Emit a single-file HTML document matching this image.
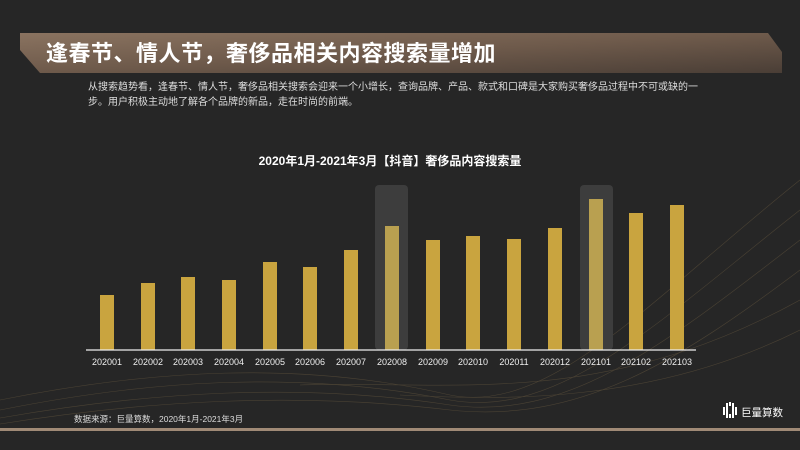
<!DOCTYPE html>
<html><head><meta charset="utf-8"><style>
body{margin:0;width:800px;height:450px;background:#262626;overflow:hidden;position:relative;font-family:"Liberation Sans","Noto Sans CJK SC",sans-serif;}
.t{position:absolute;color:#fff;}
</style></head><body>
<svg width="800" height="450" style="position:absolute;left:0;top:0">
<defs>
<linearGradient id="hg" x1="0" y1="0" x2="1" y2="1">
<stop offset="0" stop-color="#8a7360"/><stop offset="0.5" stop-color="#6e5a4b"/><stop offset="1" stop-color="#4a3e36"/></linearGradient>
</defs>
<polygon points="20,33 768,33 782,52 782,73 40,73 20,50" fill="url(#hg)"/>
<g stroke="#5a4e3a" stroke-width="0.6" fill="none" opacity="0.7">
<path d="M0,400 C150,370 300,360 450,395 C550,415 650,300 800,180"/>
<path d="M0,410 C150,380 300,370 450,400 C560,420 660,320 800,210"/>
<path d="M0,418 C150,392 300,382 450,405 C570,422 670,340 800,240"/>
<path d="M0,424 C150,400 300,392 450,410 C580,424 680,360 800,270"/>
<path d="M300,385 C450,380 600,410 800,300"/>
<path d="M400,395 C500,400 650,405 800,330"/>
</g>
<rect x="375" y="185" width="33" height="165" rx="4" fill="#3d3d3d"/>
<rect x="580" y="185" width="33" height="165" rx="4" fill="#3d3d3d"/>
<g fill="#c9a43f">
<rect x="100" y="295" width="14" height="55"/>
<rect x="141" y="283" width="14" height="67"/>
<rect x="181" y="277" width="14" height="73"/>
<rect x="222" y="280" width="14" height="70"/>
<rect x="263" y="262" width="14" height="88"/>
<rect x="303" y="267" width="14" height="83"/>
<rect x="344" y="250" width="14" height="100"/>
<rect x="385" y="226" width="14" height="124" fill="#b9a050"/>
<rect x="426" y="240" width="14" height="110"/>
<rect x="466" y="236" width="14" height="114"/>
<rect x="507" y="239" width="14" height="111"/>
<rect x="548" y="228" width="14" height="122"/>
<rect x="589" y="199" width="14" height="151" fill="#b9a050"/>
<rect x="629" y="213" width="14" height="137"/>
<rect x="670" y="205" width="14" height="145"/>
</g>
<line x1="86" y1="350" x2="696" y2="350" stroke="#eee" stroke-width="1.2"/>
<g fill="#eee" font-size="9" text-anchor="middle" font-family="Liberation Sans,sans-serif">
<text x="107" y="365">202001</text><text x="148" y="365">202002</text><text x="188" y="365">202003</text><text x="229" y="365">202004</text><text x="270" y="365">202005</text><text x="310" y="365">202006</text><text x="351" y="365">202007</text><text x="392" y="365">202008</text><text x="433" y="365">202009</text><text x="473" y="365">202010</text><text x="514" y="365">202011</text><text x="555" y="365">202012</text><text x="596" y="365">202101</text><text x="636" y="365">202102</text><text x="677" y="365">202103</text>
</g>
<rect x="0" y="428" width="800" height="3" fill="#a08a76"/>
<g fill="#fff"><rect x="723" y="407" width="2" height="8"/><rect x="726" y="403" width="2" height="15"/><rect x="729" y="402" width="2" height="4"/><rect x="729" y="414" width="2" height="4"/><rect x="732" y="403" width="2" height="15"/><rect x="735" y="407" width="2" height="8"/></g>
</svg>
<div class="t" style="left:46px;top:36px;font-size:22px;font-weight:bold;letter-spacing:0.5px">逢春节、情人节，奢侈品相关内容搜索量增加</div>
<div class="t" style="left:88px;top:80px;font-size:10px;line-height:15px;width:614px;color:#ddd">从搜索趋势看，逢春节、情人节，奢侈品相关搜索会迎来一个小增长，查询品牌、产品、款式和口碑是大家购买奢侈品过程中不可或缺的一步。用户积极主动地了解各个品牌的新品，走在时尚的前端。</div>
<div class="t" style="left:0;width:780px;text-align:center;top:152px;font-size:12px;font-weight:bold">2020年1月-2021年3月【抖音】奢侈品内容搜索量</div>
<div class="t" style="left:74px;top:413px;font-size:8.5px;color:#ddd">数据来源：巨量算数，2020年1月-2021年3月</div>
<div class="t" style="left:741px;top:405px;font-size:10.5px">巨量算数</div>
</body></html>
